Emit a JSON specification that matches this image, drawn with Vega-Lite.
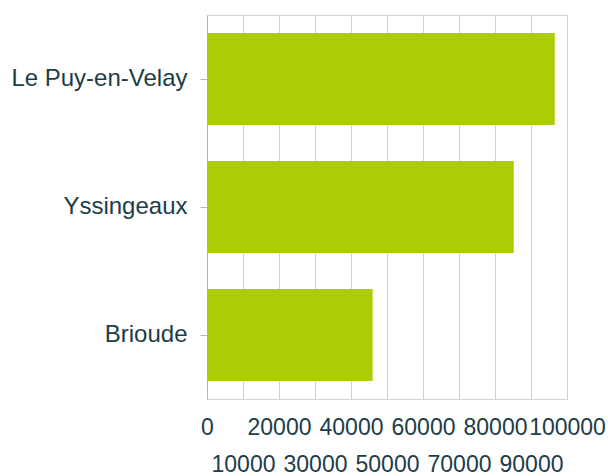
{
  "$schema": "https://vega.github.io/schema/vega-lite/v6.json",
  "autosize": {"type": "none"},
  "padding": {"left": 207, "top": 15, "right": 41, "bottom": 77},
  "width": 360,
  "height": 384,
  "background": "white",
  "config": {
    "view": {"stroke": "#d4d4d4", "strokeWidth": 1},
    "font": "Liberation Sans"
  },
  "data": {
    "values": [
      {"arrondissement": "Le Puy-en-Velay", "population": 96600},
      {"arrondissement": "Yssingeaux", "population": 85200},
      {"arrondissement": "Brioude", "population": 46000}
    ]
  },
  "mark": {"type": "bar", "color": "#abcd03"},
  "encoding": {
    "y": {
      "field": "arrondissement",
      "type": "nominal",
      "sort": null,
      "scale": {"paddingInner": 0.28, "paddingOuter": 0.14},
      "axis": {
        "title": null,
        "domainColor": "#b5b5b5",
        "tickColor": "#b5b5b5",
        "tickSize": 7,
        "labelPadding": 13,
        "labelFontSize": 24,
        "labelColor": "#1c3d47",
        "labelFont": "Liberation Sans"
      }
    },
    "x": {
      "field": "population",
      "type": "quantitative",
      "scale": {"domain": [0, 100000], "nice": false},
      "axis": {
        "title": null,
        "values": [0, 10000, 20000, 30000, 40000, 50000, 60000, 70000, 80000, 90000, 100000],
        "format": "d",
        "domain": false,
        "ticks": false,
        "grid": true,
        "gridColor": "#d0d0d0",
        "labelFontSize": 23,
        "labelColor": "#1c3d47",
        "labelFont": "Liberation Sans",
        "labelOverlap": false,
        "labelFlush": false,
        "labelBound": false,
        "labelBaseline": "top",
        "labelPadding": {"condition": {"test": "datum.value % 20000 != 0", "value": 54}, "value": 17}
      }
    }
  }
}
